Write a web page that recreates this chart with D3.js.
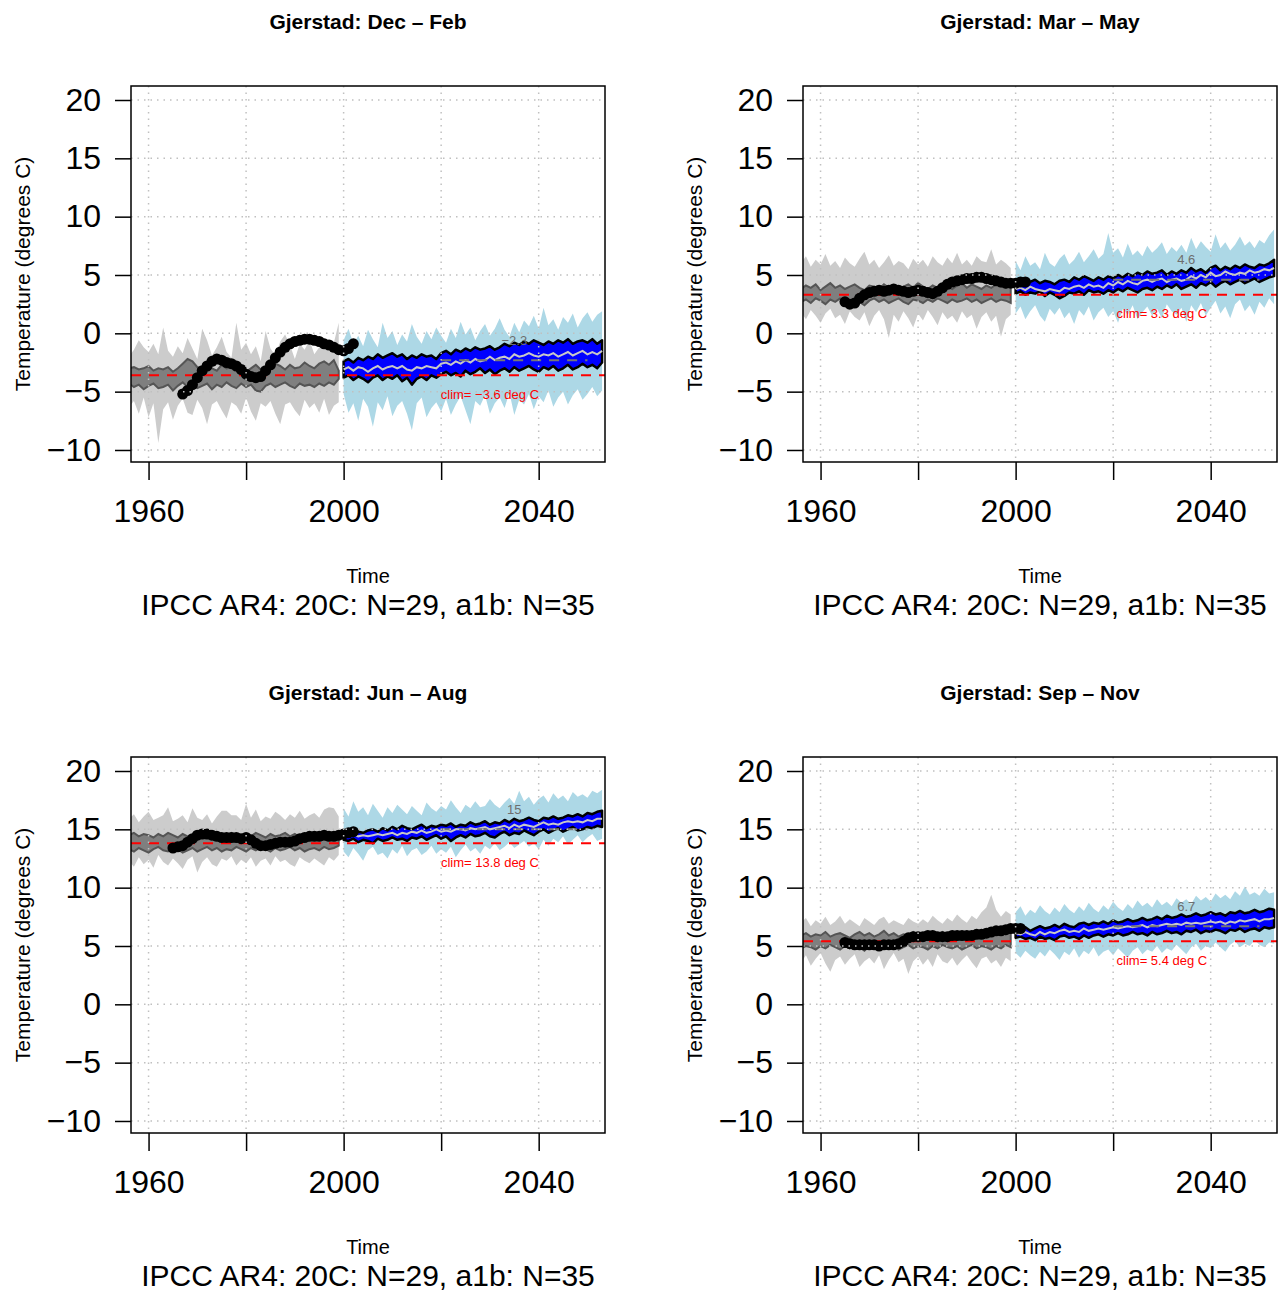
<!DOCTYPE html>
<html>
<head>
<meta charset="utf-8">
<script src="https://cdn.jsdelivr.net/npm/d3@7"></script>
<style>
    body { margin: 0; background: #ffffff; }
    svg text { font-family: "Liberation Sans", Arial, Helvetica, sans-serif; }
</style>
</head>
<body>
<div id="chart"></div>
<script>
// Years of the two periods (20C runs and a1b scenario runs)
const histYears = d3.range(1956, 2000);
const futYears = d3.range(2000, 2054);

const seasonTitles = ["Gjerstad: Dec \u2013 Feb", "Gjerstad: Mar \u2013 May",
                      "Gjerstad: Jun \u2013 Aug", "Gjerstad: Sep \u2013 Nov"];
const climValues = [-3.6, 3.3, 13.8, 5.4];
const scenarioMeans = [-2.3, 4.6, 15, 6.7];
const obsStartYears = [1967, 1965, 1965, 1965];
const xTicks = [1960, 1980, 2000, 2020, 2040];
const xTickLabels = ["1960", "", "2000", "", "2040"];
const yTicks = [-10, -5, 0, 5, 10, 15, 20];

// ---- Dec - Feb ----
const djfLightHi = [-2.0,-1.4,-0.6,-1.2,-1.6,-0.9,-1.8,0.5,-1.5,-2.0,-1.1,-1.7,-0.4,-1.3,-2.2,0.4,-0.6,-1.9,-1.2,-0.3,-1.6,-2.1,0.9,-1.4,-0.8,-1.8,-1.1,-2.4,0.2,-1.3,-1.9,-0.7,-0.1,-1.0,-2.2,-0.9,-1.4,-0.6,-1.8,-1.2,-0.4,-1.5,-0.8,0.9];
const djfLightLo = [-6.3,-5.8,-6.9,-5.5,-7.2,-6.0,-9.4,-6.5,-5.9,-7.4,-6.2,-5.6,-6.8,-7.0,-5.7,-6.4,-7.8,-6.1,-5.8,-6.6,-7.3,-5.9,-6.2,-6.9,-5.5,-6.7,-7.5,-6.0,-6.3,-5.8,-6.9,-7.8,-6.1,-5.9,-6.6,-7.1,-5.7,-6.4,-6.0,-6.8,-5.6,-7.0,-6.2,-5.9];
const djfDarkHi = [-3.0,-2.9,-3.1,-3.0,-2.8,-3.2,-3.0,-3.1,-2.9,-3.3,-3.0,-2.6,-2.2,-2.4,-2.9,-3.1,-2.8,-3.0,-3.2,-2.7,-3.0,-2.9,-3.1,-2.8,-3.3,-3.0,-2.7,-3.1,-2.9,-3.0,-2.6,-2.8,-3.1,-2.7,-3.0,-2.9,-2.5,-2.8,-3.0,-2.6,-2.4,-2.7,-2.3,-3.2];
const djfDarkLo = [-4.3,-4.6,-4.4,-4.8,-4.5,-4.3,-4.7,-4.6,-4.4,-4.9,-4.5,-4.2,-4.6,-4.4,-4.7,-4.5,-4.3,-4.8,-4.4,-4.6,-4.2,-4.5,-4.7,-4.3,-4.6,-4.4,-4.9,-5.0,-4.5,-4.3,-4.6,-4.4,-4.2,-4.5,-4.7,-4.3,-4.5,-4.4,-4.6,-4.3,-4.5,-4.2,-4.4,-3.9];
const djfScenHi = [-0.6,0.4,-0.9,-0.2,-1.1,0.3,-0.5,-1.2,0.9,-0.4,0.2,-1.0,-0.1,-0.7,0.8,-0.3,-0.9,0.2,-0.5,0.5,-0.2,-0.8,0.4,-0.4,1.0,-0.1,0.5,-0.6,0.2,0.8,-0.2,0.4,1.3,0.3,-0.3,0.9,0.1,1.1,0.6,1.5,0.4,2.2,0.7,1.2,0.3,1.4,0.9,1.7,0.5,1.3,1.8,1.0,1.6,1.9];
const djfScenLo = [-5.2,-6.8,-6.0,-7.5,-5.6,-6.3,-8.0,-5.9,-6.6,-5.4,-7.1,-6.2,-5.8,-6.9,-8.3,-6.0,-5.5,-7.2,-6.4,-5.9,-6.7,-5.6,-7.0,-6.1,-5.4,-6.6,-7.8,-5.8,-6.2,-5.3,-6.9,-6.0,-5.5,-6.4,-5.1,-7.0,-5.7,-6.1,-5.2,-6.5,-5.4,-5.9,-4.9,-6.3,-5.5,-5.0,-6.1,-5.3,-4.8,-5.7,-5.2,-4.6,-5.4,-4.9];
const djfBlueHi = [-2.4,-2.2,-2.5,-2.1,-2.3,-2.0,-2.2,-1.8,-2.1,-1.9,-1.7,-2.0,-1.8,-2.2,-1.9,-2.1,-1.8,-2.0,-1.9,-2.2,-1.7,-1.5,-1.8,-1.4,-1.6,-1.3,-1.5,-1.2,-1.4,-1.3,-1.1,-1.4,-1.2,-0.9,-1.1,-0.8,-1.0,-0.7,-0.9,-0.6,-0.8,-1.0,-0.7,-0.9,-0.6,-0.8,-0.5,-0.9,-0.7,-0.6,-0.8,-0.5,-0.9,-0.6];
const djfBlueLo = [-3.8,-3.6,-4.0,-3.7,-3.9,-4.2,-3.8,-3.6,-4.0,-3.7,-3.9,-3.6,-4.1,-3.8,-4.4,-3.9,-3.7,-4.0,-3.6,-3.8,-3.5,-3.3,-3.6,-3.4,-3.7,-3.2,-3.5,-3.3,-3.0,-3.4,-3.1,-3.5,-3.2,-3.0,-3.3,-2.9,-3.2,-3.0,-2.8,-3.1,-3.3,-2.9,-3.1,-2.8,-3.2,-3.0,-2.7,-3.1,-2.9,-2.6,-2.9,-2.7,-3.0,-2.5];
const djfMedian = [-3.1,-2.9,-3.2,-2.9,-3.0,-3.3,-3.0,-2.8,-3.1,-2.9,-2.8,-3.0,-2.8,-3.1,-3.2,-2.9,-3.0,-2.8,-2.9,-3.0,-2.6,-2.5,-2.7,-2.4,-2.6,-2.3,-2.5,-2.2,-2.4,-2.3,-2.0,-2.3,-2.1,-2.0,-2.2,-1.8,-2.0,-1.9,-1.7,-1.9,-2.0,-1.8,-1.9,-1.7,-2.0,-1.8,-1.6,-1.9,-1.7,-1.5,-1.8,-1.6,-1.8,-1.5];
const djfObs = [-5.2,-4.9,-4.4,-3.8,-3.2,-2.8,-2.4,-2.2,-2.3,-2.5,-2.6,-2.8,-3.1,-3.5,-3.7,-3.8,-3.7,-3.2,-2.7,-2.1,-1.6,-1.2,-0.9,-0.7,-0.6,-0.5,-0.5,-0.6,-0.7,-0.9,-1.0,-1.2,-1.4,-1.5,-1.3,-0.9];

// ---- Mar - May ----
const mamLightHi = [6.0,6.6,5.7,6.3,5.9,6.8,5.8,6.2,5.6,6.5,6.0,5.7,6.4,7.0,5.9,6.3,5.6,6.1,6.7,5.8,6.2,6.0,5.5,6.4,5.9,6.3,5.7,6.6,6.1,5.8,6.5,6.0,6.9,5.9,6.3,5.8,6.6,6.2,6.1,7.2,5.9,6.3,6.0,5.6];
const mamLightLo = [1.8,1.2,2.0,1.5,0.9,1.7,2.1,1.3,1.6,0.8,1.9,1.4,1.1,1.8,0.6,1.5,2.0,1.2,-0.4,1.6,1.0,1.9,1.3,0.5,1.7,1.1,2.0,1.4,0.7,1.8,1.2,1.5,0.9,1.9,1.3,1.6,0.4,1.4,1.8,1.0,1.5,-0.3,1.2,1.6];
const mamDarkHi = [3.8,4.1,3.9,4.2,3.7,4.0,4.3,3.9,4.1,3.8,4.0,4.2,3.9,3.7,4.1,4.0,3.8,4.2,3.9,4.1,3.7,4.0,4.2,3.9,4.3,4.0,3.8,4.1,3.9,4.2,4.0,3.8,4.1,4.3,3.9,4.2,4.0,3.8,4.1,3.9,4.2,4.0,3.9,4.3];
const mamDarkLo = [2.7,2.9,2.6,3.0,2.8,2.5,2.9,2.7,3.0,2.8,2.6,2.9,2.7,2.4,2.8,3.0,2.7,2.9,2.6,2.8,3.0,2.7,2.5,2.9,2.8,2.6,2.9,2.7,3.0,2.8,2.6,2.9,2.7,2.8,3.0,2.7,2.9,2.6,2.8,3.0,2.7,2.9,2.8,2.6];
const mamScenHi = [6.2,5.4,6.6,5.8,6.1,5.5,6.9,6.0,5.7,6.4,6.8,5.9,6.3,7.0,6.1,6.6,7.2,6.4,6.8,8.6,6.9,7.3,6.5,7.7,6.7,7.1,6.6,7.5,6.9,7.3,7.8,6.8,7.4,7.0,7.6,6.9,8.2,7.2,7.9,7.4,7.0,8.5,7.3,7.8,7.1,7.6,8.3,7.5,7.9,7.3,8.0,7.7,8.4,8.9];
const mamScenLo = [1.7,2.3,1.2,1.9,2.4,1.5,1.0,2.1,1.6,2.2,1.3,1.8,0.8,2.0,1.5,2.3,1.1,1.8,2.2,1.4,1.9,0.9,2.1,1.6,2.4,1.2,1.8,2.3,1.5,2.1,1.3,2.5,1.9,1.6,2.2,1.0,2.4,1.8,2.6,1.5,2.2,2.8,1.7,2.3,1.3,2.5,2.9,1.9,2.4,1.6,2.7,2.2,3.0,2.5];
const mamBlueHi = [4.6,4.5,4.7,4.4,4.6,4.3,4.5,4.4,4.2,4.5,4.6,4.4,4.8,4.6,4.9,4.7,4.5,4.8,4.6,4.9,4.7,5.0,4.8,5.1,4.9,5.2,5.0,5.3,5.1,5.2,5.4,5.0,5.3,5.1,5.4,5.2,5.6,5.3,5.5,5.2,5.6,5.8,5.4,5.7,5.5,5.8,5.6,5.9,5.7,5.6,5.9,5.8,6.0,6.3];
const mamBlueLo = [3.4,3.6,3.3,3.5,3.4,3.6,3.2,3.5,3.3,3.0,3.2,3.5,3.4,3.6,3.3,3.7,3.5,3.6,3.4,3.7,3.5,3.8,3.6,3.9,3.7,3.5,3.8,3.9,3.7,4.0,3.8,4.1,3.9,4.2,3.8,4.0,4.2,3.9,4.3,4.1,4.4,4.0,4.3,4.5,4.2,4.4,4.6,4.3,4.5,4.7,4.4,4.6,4.8,4.9];
const mamMedian = [3.8,3.9,3.7,4.0,3.8,3.7,3.6,3.8,3.7,3.6,3.9,3.8,4.0,4.1,3.9,4.2,4.0,4.1,3.9,4.3,4.1,4.4,4.2,4.5,4.3,4.2,4.5,4.6,4.4,4.6,4.7,4.4,4.6,4.7,4.5,4.6,4.9,4.7,5.0,4.8,5.2,4.9,5.0,5.3,5.1,5.0,5.2,5.1,5.4,5.2,5.3,5.5,5.4,5.6];
const mamObs = [2.7,2.5,2.6,3.0,3.3,3.5,3.6,3.7,3.6,3.7,3.8,3.7,3.6,3.5,3.6,3.7,3.6,3.5,3.4,3.6,3.9,4.2,4.4,4.5,4.6,4.7,4.7,4.8,4.8,4.7,4.6,4.5,4.4,4.3,4.3,4.3,4.4,4.4];

// ---- Jun - Aug ----
const jjaLightHi = [15.9,16.3,15.6,16.1,16.5,15.8,16.0,16.2,16.9,15.7,15.9,16.2,15.6,16.8,16.0,15.8,16.3,15.5,16.1,16.6,16.6,16.2,16.2,15.8,17.2,16.0,16.7,15.7,16.1,15.9,16.5,16.2,15.8,16.3,16.0,16.6,15.9,16.2,16.4,16.0,16.7,16.9,16.8,16.1];
const jjaLightLo = [12.3,11.8,12.6,12.0,12.4,11.7,12.8,12.2,11.9,12.5,12.1,11.6,12.4,12.7,11.3,12.2,12.6,12.0,11.8,12.5,12.3,12.7,11.9,12.4,12.1,12.6,11.8,12.3,12.5,11.9,12.7,12.2,12.4,12.0,11.8,12.6,12.3,12.1,12.5,12.2,11.9,12.6,12.3,12.8];
const jjaDarkHi = [14.5,14.7,14.4,14.6,14.5,14.3,14.6,14.4,14.7,14.5,14.3,14.6,14.4,14.2,14.5,14.7,14.4,14.6,14.3,14.5,14.4,14.7,14.5,14.3,14.6,14.4,14.7,14.5,14.3,14.6,14.4,14.5,14.7,14.4,14.6,14.3,14.5,14.7,14.4,14.6,14.5,14.3,14.6,14.7];
const jjaDarkLo = [13.3,13.1,13.4,13.2,13.0,13.3,13.5,13.2,13.1,13.4,13.3,13.0,13.2,13.4,13.1,13.3,13.5,13.2,13.4,13.1,13.3,13.2,13.5,13.3,13.1,13.4,13.2,13.5,13.3,13.1,13.4,13.2,13.3,13.5,13.2,13.4,13.1,13.3,13.4,13.2,13.5,13.3,13.4,13.6];
const jjaScenHi = [16.8,16.1,17.4,16.5,16.9,16.2,17.2,16.6,16.0,16.9,16.4,17.1,16.7,16.3,17.0,16.6,16.2,17.3,16.8,16.5,17.0,16.7,17.5,16.9,16.4,17.1,16.8,17.4,16.9,17.0,17.6,17.1,16.8,17.3,17.7,17.2,18.3,17.4,17.8,17.1,17.6,17.9,17.3,18.1,17.6,17.9,17.4,18.2,17.8,18.0,17.7,18.3,18.1,18.4];
const jjaScenLo = [13.1,12.6,13.4,12.9,12.3,13.2,13.5,12.8,13.0,12.5,13.3,12.9,13.6,12.7,13.2,13.4,12.8,13.1,13.6,12.9,13.3,13.0,13.5,12.6,13.2,13.7,13.1,13.4,12.9,13.6,13.3,13.8,13.2,13.5,13.9,13.4,13.7,14.0,13.5,13.8,13.3,14.1,13.6,14.2,13.9,14.4,13.7,14.1,14.5,13.9,14.3,14.6,14.0,14.2];
const jjaBlueHi = [14.9,14.8,15.0,14.8,14.7,14.9,15.0,14.8,15.1,14.9,15.2,15.0,15.3,15.1,15.0,15.2,15.4,15.1,15.3,15.2,15.4,15.3,15.5,15.2,15.4,15.3,15.6,15.4,15.5,15.7,15.4,15.6,15.5,15.8,15.6,15.9,15.7,15.8,16.0,15.8,15.7,16.0,15.9,16.1,15.9,16.0,16.2,16.1,16.3,16.1,16.4,16.3,16.5,16.6];
const jjaBlueLo = [14.1,14.0,14.2,13.9,14.1,14.0,13.8,14.2,14.0,14.1,14.3,14.1,14.2,14.0,14.3,14.2,14.4,14.1,14.3,14.5,14.2,14.4,14.0,14.3,14.5,14.3,14.6,14.4,14.5,14.7,14.4,14.3,14.6,14.8,14.5,14.7,14.6,14.9,14.7,14.5,14.8,15.0,14.7,14.9,15.1,14.8,15.0,15.2,14.9,15.0,15.2,15.1,15.3,15.2];
const jjaMedian = [14.5,14.4,14.6,14.4,14.5,14.4,14.5,14.6,14.5,14.6,14.7,14.5,14.7,14.6,14.8,14.7,14.9,14.7,14.8,15.0,14.8,14.9,14.8,15.0,15.0,14.9,15.1,15.0,15.1,15.2,15.0,15.1,15.2,15.3,15.1,15.4,15.2,15.4,15.3,15.2,15.4,15.6,15.4,15.5,15.4,15.6,15.7,15.6,15.7,15.6,15.8,15.7,15.9,15.9];
const jjaObs = [13.4,13.5,13.6,13.9,14.2,14.5,14.6,14.6,14.5,14.4,14.3,14.3,14.3,14.3,14.2,14.3,14.1,13.8,13.6,13.6,13.7,13.8,13.9,13.9,13.9,14.0,14.2,14.3,14.4,14.4,14.4,14.5,14.4,14.4,14.5,14.6,14.7,14.8];

// ---- Sep - Nov ----
const sonLightHi = [7.0,7.4,6.7,7.2,6.9,7.5,6.8,7.1,7.6,6.9,7.3,7.0,6.7,7.4,7.1,6.8,7.3,7.5,6.9,7.2,7.0,6.8,7.4,7.1,6.9,7.3,7.0,7.6,7.2,6.9,7.4,7.1,7.7,7.3,7.0,7.6,7.3,7.9,8.3,9.4,8.1,7.5,8.0,7.7];
const sonLightLo = [3.6,4.2,3.3,3.9,4.4,3.5,2.8,3.8,4.1,3.4,3.9,4.3,3.2,3.7,4.0,3.5,4.2,3.0,3.8,4.4,3.6,3.9,2.6,3.7,4.1,3.4,3.9,3.2,4.3,3.7,3.5,4.0,3.3,3.8,4.2,3.6,3.1,3.9,4.1,3.5,3.8,3.2,4.0,3.7];
const sonDarkHi = [5.9,6.1,5.8,6.0,5.9,6.2,5.8,6.0,6.1,5.9,5.7,6.0,6.2,5.9,6.1,5.8,6.0,6.3,5.9,6.1,5.8,6.0,5.9,6.2,6.0,5.8,6.1,5.9,6.0,6.2,5.9,6.1,5.8,6.0,6.2,5.9,6.1,6.0,6.3,5.9,6.1,6.2,6.0,6.3];
const sonDarkLo = [4.8,5.0,4.9,4.7,5.0,4.8,5.1,4.9,4.7,5.0,4.8,5.1,4.9,4.6,5.0,4.8,4.9,5.1,4.8,5.0,4.7,4.9,5.1,4.8,5.0,4.9,4.7,5.0,4.8,5.1,4.9,4.8,5.0,4.7,4.9,5.1,4.8,5.0,4.9,4.7,5.0,4.8,5.1,4.9];
const sonScenHi = [7.9,8.4,7.6,8.1,7.8,8.5,8.0,7.7,8.3,7.9,8.6,8.1,7.8,8.4,8.0,8.7,8.2,7.9,8.5,8.1,8.8,8.3,8.0,8.6,8.2,8.9,8.4,8.7,8.3,9.0,8.5,8.8,8.4,9.1,8.7,9.0,8.6,9.3,8.9,9.2,8.8,9.5,9.1,9.4,9.0,9.7,9.3,10.1,9.4,9.6,9.3,9.9,9.5,9.6];
const sonScenLo = [4.4,4.0,4.6,4.2,3.9,4.5,4.1,4.7,4.3,3.8,4.5,4.2,4.8,4.0,4.6,4.3,4.9,4.1,4.5,4.7,4.2,4.8,4.4,4.0,4.6,4.9,4.3,4.7,4.5,5.0,4.4,4.8,4.6,5.1,4.7,4.3,4.9,5.2,4.6,5.0,4.8,5.3,4.9,4.5,5.1,5.4,4.9,5.2,5.0,5.5,5.1,4.9,5.3,5.2];
const sonBlueHi = [6.5,6.4,6.6,6.3,6.5,6.7,6.5,6.6,6.8,6.6,6.9,6.7,6.6,6.9,7.0,6.8,7.0,6.9,7.1,6.9,7.2,7.0,7.1,7.3,7.1,7.2,7.4,7.2,7.3,7.5,7.3,7.6,7.4,7.5,7.7,7.5,7.6,7.8,7.6,7.7,7.9,7.7,7.8,7.6,7.9,7.8,8.0,7.8,7.9,8.1,7.9,8.0,8.2,8.1];
const sonBlueLo = [5.7,5.8,5.6,5.7,5.5,5.8,5.6,5.7,5.5,5.8,5.9,5.7,5.8,5.6,5.9,5.7,5.9,6.0,5.8,6.0,5.9,6.1,5.9,6.0,6.2,6.0,6.1,5.9,6.2,6.0,6.1,6.3,6.1,6.2,6.0,6.3,6.2,6.4,6.1,6.3,6.2,6.4,6.3,6.1,6.4,6.3,6.5,6.2,6.4,6.5,6.3,6.6,6.5,6.6];
const sonMedian = [6.1,6.0,6.2,6.0,5.9,6.2,6.0,6.2,6.1,6.3,6.4,6.2,6.3,6.2,6.5,6.3,6.4,6.5,6.4,6.5,6.6,6.5,6.6,6.7,6.6,6.7,6.8,6.6,6.8,6.7,6.8,6.9,6.8,6.9,6.8,7.0,6.9,7.0,6.9,7.0,7.1,7.0,7.1,6.9,7.1,7.0,7.2,7.1,7.2,7.3,7.1,7.3,7.3,7.4];
const sonObs = [5.3,5.2,5.1,5.1,5.1,5.1,5.1,5.0,5.1,5.1,5.1,5.2,5.4,5.7,5.8,5.8,5.8,5.9,5.9,5.8,5.8,5.8,5.9,5.9,5.9,5.9,5.9,6.0,6.0,6.1,6.2,6.3,6.3,6.4,6.5,6.5,6.5];

class ScenarioPanel {
    constructor(svg, id, left, top, season) {
        // Each panel lives in its own group, shifted to its grid cell
        this.id = id;
        this.season = season;
        this.g = svg.append("g")
                    .attr("transform", `translate(${left}, ${top})`);

        // Plot region (box) inside the cell
        this.box = { left: 131, right: 605, top: 86, bottom: 462 };

        this.x = d3.scaleLinear()
                   .domain([1956.4, 2053.6])
                   .range([this.box.left, this.box.right]);
        this.y = d3.scaleLinear()
                   .domain([-11.03, 21.2])
                   .range([this.box.bottom, this.box.top]);
    }

    drawPlot() {
        let x = this.x, y = this.y, s = this.season, box = this.box;

        // Clip everything to the plot box
        this.g.append("clipPath")
              .attr("id", `clip${this.id}`)
              .append("rect")
              .attr("x", box.left)
              .attr("y", box.top)
              .attr("width", box.right - box.left)
              .attr("height", box.bottom - box.top);

        let plot = this.g.append("g").attr("clip-path", `url(#clip${this.id})`);

        let band = d3.area()
                     .x(d => x(d.year))
                     .y0(d => y(d.lo))
                     .y1(d => y(d.hi));

        let hist = (hi, lo) => histYears.map((yr, i) => ({ year: yr, hi: hi[i], lo: lo[i] }));
        let fut = (hi, lo) => futYears.map((yr, i) => ({ year: yr, hi: hi[i], lo: lo[i] }));

        // 20C ensemble: full range and central range
        plot.append("path")
            .attr("d", band(hist(s.lightHi, s.lightLo)))
            .style("fill", "#cccccc");
        plot.append("path")
            .attr("d", band(hist(s.darkHi, s.darkLo)))
            .style("fill", "#7f7f7f")
            .style("stroke", "#555555")
            .style("stroke-width", 2);

        // a1b scenario: full range and central range
        plot.append("path")
            .attr("d", band(fut(s.scenHi, s.scenLo)))
            .style("fill", "#add8e6");
        plot.append("path")
            .attr("d", band(fut(s.blueHi, s.blueLo)))
            .style("fill", "#0000ff")
            .style("stroke", "#000000")
            .style("stroke-width", 2.5)
            .style("stroke-linejoin", "round");

        // Ensemble median
        plot.append("path")
            .attr("d", d3.line().x((d, i) => x(futYears[i])).y(d => y(d))(s.median))
            .style("fill", "none")
            .style("stroke", "#c8c8c8")
            .style("stroke-width", 2);

        // Scenario mean 2020-2050 with its value
        plot.append("line")
            .attr("x1", x(2020)).attr("x2", x(2050))
            .attr("y1", y(s.scen)).attr("y2", y(s.scen))
            .style("stroke", "#777777")
            .style("stroke-width", 2)
            .attr("stroke-dasharray", "10,8");
        plot.append("text")
            .attr("x", x(2035))
            .attr("y", y(s.scen) - 20)
            .attr("text-anchor", "middle")
            .attr("dominant-baseline", "central")
            .style("font-size", "13px")
            .style("fill", "#6e6e6e")
            .text(String(s.scen).replace("-", "\u2212"));

        // Climatology reference
        plot.append("line")
            .attr("x1", box.left).attr("x2", box.right)
            .attr("y1", y(s.clim)).attr("y2", y(s.clim))
            .style("stroke", "#ff0000")
            .style("stroke-width", 2)
            .attr("stroke-dasharray", "10,8");
        plot.append("text")
            .attr("x", x(2030))
            .attr("y", y(s.clim) + 19)
            .attr("text-anchor", "middle")
            .attr("dominant-baseline", "central")
            .style("font-size", "13px")
            .style("fill", "#ff0000")
            .text(`clim= ${String(s.clim).replace("-", "\u2212")} deg C`);

        // Observations
        plot.selectAll("circle")
            .data(s.obs)
            .join("circle")
            .attr("cx", (d, i) => x(s.obsStart + i))
            .attr("cy", d => y(d))
            .attr("r", 5.5)
            .style("fill", "#000000");

        // Dotted grid on top
        let grid = this.g.append("g");
        grid.selectAll("line.v")
            .data(xTicks)
            .join("line")
            .attr("class", "v")
            .attr("x1", d => x(d)).attr("x2", d => x(d))
            .attr("y1", box.top).attr("y2", box.bottom);
        grid.selectAll("line.h")
            .data(yTicks)
            .join("line")
            .attr("class", "h")
            .attr("x1", box.left).attr("x2", box.right)
            .attr("y1", d => y(d)).attr("y2", d => y(d));
        grid.selectAll("line")
            .style("stroke", "#c0c0c0")
            .style("stroke-width", 1.5)
            .attr("stroke-dasharray", "1.5,5");

        // Box
        this.g.append("rect")
              .attr("x", box.left).attr("y", box.top)
              .attr("width", box.right - box.left)
              .attr("height", box.bottom - box.top)
              .style("fill", "none")
              .style("stroke", "#000000")
              .style("stroke-width", 1.5);

        // Axes
        let xAxis = this.g.append("g")
                          .attr("transform", `translate(0, ${box.bottom})`)
                          .call(d3.axisBottom(x)
                                  .tickValues(xTicks)
                                  .tickFormat((d, i) => xTickLabels[i])
                                  .tickSize(18)
                                  .tickPadding(19));
        let yAxis = this.g.append("g")
                          .attr("transform", `translate(${box.left}, 0)`)
                          .call(d3.axisLeft(y)
                                  .tickValues(yTicks)
                                  .tickSize(16)
                                  .tickPadding(14));
        [xAxis, yAxis].forEach(a => {
            a.select(".domain").remove();
            a.selectAll(".tick line").style("stroke", "#000").style("stroke-width", 1.5);
            a.selectAll(".tick text")
             .style("font-size", "32px")
             .style("font-family", "'Liberation Sans', Arial, sans-serif")
             .style("fill", "#000");
        });

        // Titles and labels
        let cx = (box.left + box.right) / 2;
        this.g.append("text")
              .attr("x", cx).attr("y", 21)
              .attr("text-anchor", "middle")
              .attr("dominant-baseline", "central")
              .style("font-size", "21px")
              .style("font-weight", "bold")
              .text(s.title);
        this.g.append("text")
              .attr("transform", `translate(22, ${(box.top + box.bottom) / 2}) rotate(-90)`)
              .attr("text-anchor", "middle")
              .attr("dominant-baseline", "central")
              .style("font-size", "21px")
              .text("Temperature (degrees C)");
        this.g.append("text")
              .attr("x", cx).attr("y", 583)
              .attr("text-anchor", "middle")
              .style("font-size", "20px")
              .text("Time");
        this.g.append("text")
              .attr("x", cx).attr("y", 615)
              .attr("text-anchor", "middle")
              .style("font-size", "30px")
              .text("IPCC AR4: 20C: N=29, a1b: N=35");
    }
}

const seasons = [
    { lightHi: djfLightHi, lightLo: djfLightLo, darkHi: djfDarkHi, darkLo: djfDarkLo,
      scenHi: djfScenHi, scenLo: djfScenLo, blueHi: djfBlueHi, blueLo: djfBlueLo,
      median: djfMedian, obs: djfObs },
    { lightHi: mamLightHi, lightLo: mamLightLo, darkHi: mamDarkHi, darkLo: mamDarkLo,
      scenHi: mamScenHi, scenLo: mamScenLo, blueHi: mamBlueHi, blueLo: mamBlueLo,
      median: mamMedian, obs: mamObs },
    { lightHi: jjaLightHi, lightLo: jjaLightLo, darkHi: jjaDarkHi, darkLo: jjaDarkLo,
      scenHi: jjaScenHi, scenLo: jjaScenLo, blueHi: jjaBlueHi, blueLo: jjaBlueLo,
      median: jjaMedian, obs: jjaObs },
    { lightHi: sonLightHi, lightLo: sonLightLo, darkHi: sonDarkHi, darkLo: sonDarkLo,
      scenHi: sonScenHi, scenLo: sonScenLo, blueHi: sonBlueHi, blueLo: sonBlueLo,
      median: sonMedian, obs: sonObs }
];
seasons.forEach((s, i) => {
    s.title = seasonTitles[i];
    s.clim = climValues[i];
    s.scen = scenarioMeans[i];
    s.obsStart = obsStartYears[i];
});

const svg = d3.select("#chart")
              .append("svg")
              .attr("width", 1285)
              .attr("height", 1293);

seasons.forEach((s, i) => {
    let panel = new ScenarioPanel(svg, i, (i % 2) * 672, Math.floor(i / 2) * 671, s);
    panel.drawPlot();
});
</script>
</body>
</html>
